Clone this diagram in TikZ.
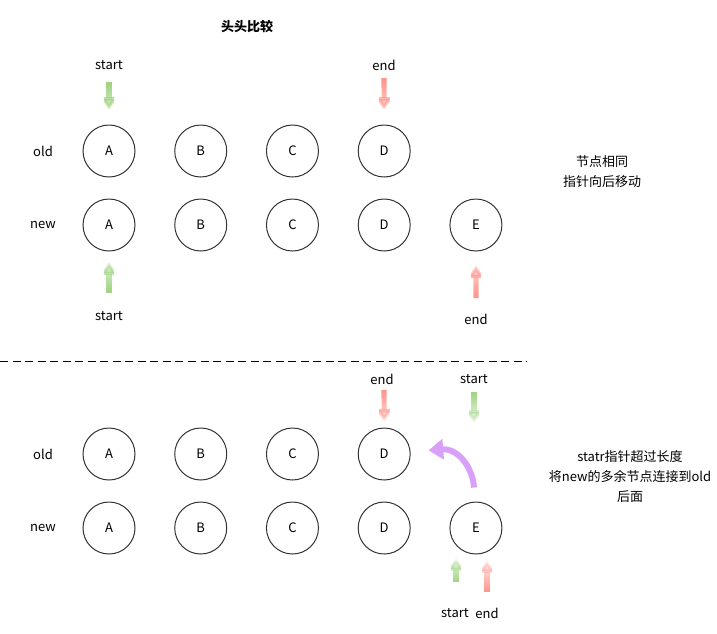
\documentclass[tikz,border=0pt]{standalone}
\usepackage{fontspec}
\setmainfont{Noto Sans CJK SC}
\usetikzlibrary{arrows.meta,fadings}

\definecolor{ptrgreen}{RGB}{151,208,119}
\definecolor{ptrred}{RGB}{255,139,128}
\definecolor{ptrpurple}{RGB}{217,160,250}

% y axis is flipped below, so these read the other way round
\tikzfading[name=tail top, top color=transparent!0, middle color=transparent!20, bottom color=transparent!95]
\tikzfading[name=tail bottom, top color=transparent!95, middle color=transparent!20, bottom color=transparent!0]

\begin{document}
\begin{tikzpicture}[x=0.75pt,y=-0.75pt, node distance=68.8pt,
                    font=\fontsize{9.75}{15}\selectfont,
                    main node/.style={circle,draw=black!80,line width=0.75pt,minimum size=39pt,inner sep=0pt},
                    ptr/.style={line width=3.8pt,-{Triangle[width=12pt,length=9.5pt]}},
                    down ptr/.style={ptr,path fading=tail top},
                    up ptr/.style={ptr,path fading=tail bottom}]

   \useasboundingbox (0,0) rectangle (717,633);

   \node[font=\fontsize{9.75}{15}\selectfont\bfseries] (title) at (247,27) {头头比较};

   % first case
   \node (oldLabel1) at (43,151) {old};
   \node (newLabel1) at (43,225) {new};

   \node[main node] (oA) at (109,151) {A};
   \node[main node] (oB) [right of=oA] {B};
   \node[main node] (oC) [right of=oB] {C};
   \node[main node] (oD) [right of=oC] {D};

   \node[main node] (nA) at (109,225) {A};
   \node[main node] (nB) [right of=nA] {B};
   \node[main node] (nC) [right of=nB] {C};
   \node[main node] (nD) [right of=nC] {D};
   \node[main node] (nE) [right of=nD] {E};

   \node (oStart) at (109,65) {start};
   \node (oEnd) at (384,65) {end};
   \node (nStart) at (109,316) {start};
   \node (nEnd) at (476,319) {end};

   \coordinate (oStartTail) at (109,82);
   \coordinate (oEndTail) at (384,78);
   \coordinate (nStartTail) at (109,293);
   \coordinate (nEndTail) at (476,298);

   \draw[down ptr,ptrgreen,shorten >=11pt] (oStartTail) -- (oA);
   \draw[down ptr,ptrred,shorten >=11pt] (oEndTail) -- (oD);
   \draw[up ptr,ptrgreen,shorten >=8pt] (nStartTail) -- (nA);
   \draw[up ptr,ptrred,shorten >=10.5pt] (nEndTail) -- (nE);

   \node[align=center] (note1) at (602,172) {节点相同\\指针向后移动};

   \draw[line width=0.75pt,dash pattern=on 6pt off 3.4pt] (0,361) -- (527,361);

   % second case
   \node (oldLabel2) at (43,454) {old};
   \node (newLabel2) at (43,528) {new};

   \node[main node] (bA) at (109,454) {A};
   \node[main node] (bB) [right of=bA] {B};
   \node[main node] (bC) [right of=bB] {C};
   \node[main node] (bD) [right of=bC] {D};

   \node[main node] (cA) at (109,528) {A};
   \node[main node] (cB) [right of=cA] {B};
   \node[main node] (cC) [right of=cB] {C};
   \node[main node] (cD) [right of=cC] {D};
   \node[main node] (cE) [right of=cD] {E};

   \node (bEnd) at (382,379) {end};
   \node (bStart) at (474,379) {start};
   \node (cStart) at (455,613) {start};
   \node (cEnd) at (487,613) {end};

   \coordinate (bEndTail) at (384,390);
   \coordinate (bStartTail) at (474,392);
   \coordinate (bStartTip) at (474,423);
   \coordinate (cStartTail) at (456,582);
   \coordinate (cStartTip) at (456,558);
   \coordinate (cEndTail) at (487,592);
   \coordinate (cEndTip) at (487,560);

   \draw[down ptr,ptrred,shorten >=4.5pt] (bEndTail) -- (bD);
   \draw[down ptr,ptrgreen] (bStartTail) -- (bStartTip);
   \draw[up ptr,ptrgreen] (cStartTail) -- (cStartTip);
   \draw[up ptr,ptrred] (cEndTail) -- (cEndTip);

   \draw[ptrpurple,line width=4.5pt,-{Triangle[width=15pt,length=11pt]},
         shorten <=10.5pt,shorten >=13.5pt]
     (cE) .. controls (473,468) and (458,448) .. (bD);

   \node[align=center] (note2) at (630,477) {statr指针超过长度\\将new的多余节点连接到old\\后面};

\end{tikzpicture}
\end{document}
